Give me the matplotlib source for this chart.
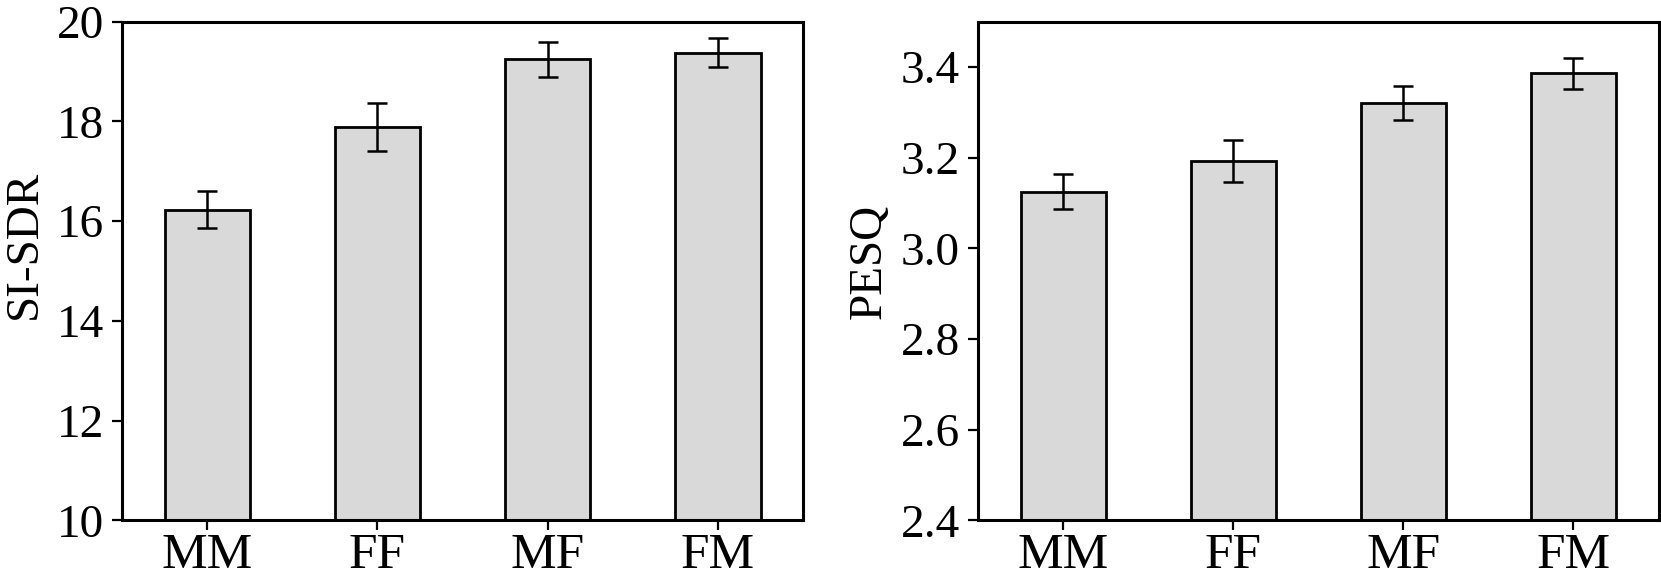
import numpy as np
import matplotlib
matplotlib.use("Agg")
import matplotlib.pyplot as plt

# data
groups = ["MM", "FF", "MF", "FM"]
sisdr = [16.23, 17.89, 19.24, 19.37]
sisdr_err = [0.37, 0.48, 0.35, 0.29]
pesq = [3.125, 3.193, 3.320, 3.386]
pesq_err = [0.039, 0.046, 0.038, 0.034]

plt.rcParams['font.family'] = ['Liberation Serif', 'DejaVu Serif']
plt.rcParams['axes.linewidth'] = 2.2

fig = plt.figure(figsize=(16.61, 5.78), dpi=100)
ax1 = fig.add_axes([0.0735, 0.0995, 0.41, 0.8633])
ax2 = fig.add_axes([0.5888, 0.0995, 0.4097, 0.8633])

x = np.arange(len(groups))


def draw(ax, vals, errs, ylim, yticks, fmt, ylabel, lab_xy):
    ax.bar(x, vals, width=0.5, color='#d9d9d9', edgecolor='black', linewidth=2.0, zorder=2)
    ax.errorbar(x, vals, yerr=errs, fmt='none', ecolor='black', elinewidth=1.8,
                capsize=7, capthick=1.8, zorder=3)
    ax.set_xlim(-0.5, 3.5)
    ax.set_ylim(*ylim)
    ax.set_yticks(yticks)
    ax.set_yticklabels([fmt.format(t) for t in yticks])
    ax.set_xticks(x)
    ax.set_xticklabels(groups)
    ax.tick_params(axis='y', direction='out', length=7, width=1.6, labelsize=34, pad=6)
    ax.tick_params(axis='x', direction='out', length=7, width=1.6, labelsize=37, pad=2)
    ax.set_ylabel(ylabel, fontsize=34)
    ax.yaxis.set_label_coords(*lab_xy)


draw(ax1, sisdr, sisdr_err, (10, 20), [10, 12, 14, 16, 18, 20], "{:d}",
     "SI-SDR", (-0.112, 0.554))
draw(ax2, pesq, pesq_err, (2.4, 3.5), [2.4, 2.6, 2.8, 3.0, 3.2, 3.4], "{:.1f}",
     "PESQ", (-0.129, 0.52))

fig.savefig("out.png", dpi=100)
